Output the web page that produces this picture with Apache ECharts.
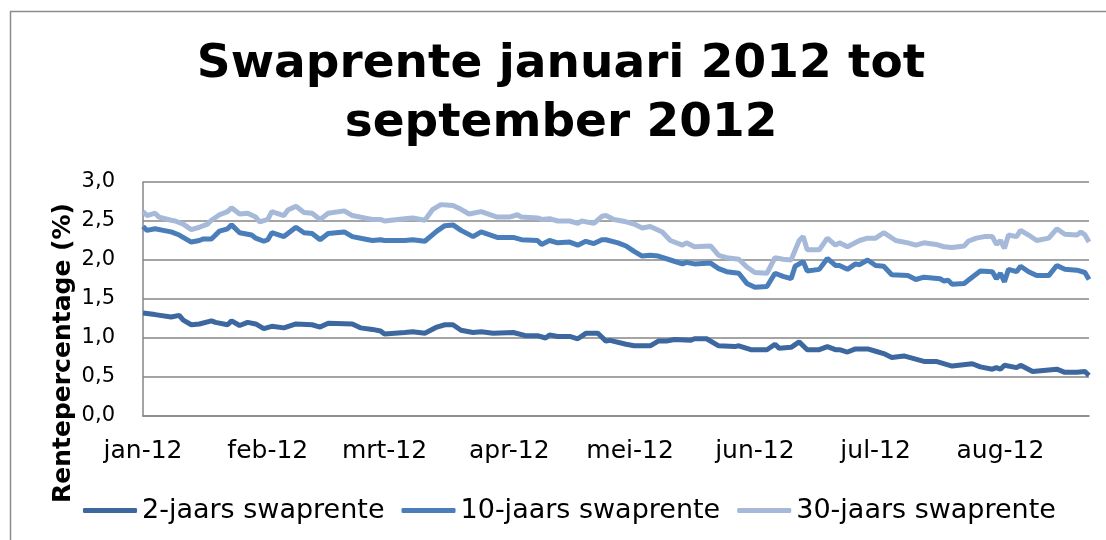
<!DOCTYPE html>
<html lang="nl">
<head>
<meta charset="UTF-8">
<title>Swaprente januari 2012 tot september 2012</title>
<script src="https://cdn.jsdelivr.net/npm/echarts@6/dist/echarts.min.js"></script>
<style>
  html, body { margin: 0; padding: 0; background: #fff; }
  #chart { width: 1106px; height: 540px; }
</style>
</head>
<body>
<div id="chart"></div>
<script>
  // x = dagen sinds 1 januari 2012
  var monthStarts = [0, 31, 60, 91, 121, 152, 182, 213];
  var monthLabels = ['jan-12', 'feb-12', 'mrt-12', 'apr-12', 'mei-12', 'jun-12', 'jul-12', 'aug-12'];

  var days2 = [0,3,7,9,10,12,14,17,18,21,22,24,26,28,30,32,35,38,42,44,46,52,54,57,59,60,65,67,70,73,75,77,79,82,84,87,92,95,98,100,101,103,106,108,110,113,115,116,120,122,126,128,130,132,136,137,140,143,147,148,151,155,157,158,161,163,165,168,170,172,173,175,177,180,182,184,186,189,194,197,201,206,208,211,212,213,214,217,218,221,227,229,232,234,235];
  var rate2 = [1.32,1.30,1.27,1.29,1.23,1.17,1.18,1.22,1.20,1.17,1.22,1.16,1.20,1.18,1.12,1.15,1.13,1.18,1.17,1.14,1.19,1.18,1.13,1.11,1.09,1.05,1.07,1.08,1.06,1.14,1.17,1.17,1.10,1.07,1.08,1.06,1.07,1.03,1.03,1.00,1.04,1.02,1.02,0.99,1.06,1.06,0.96,0.97,0.92,0.90,0.90,0.96,0.96,0.98,0.97,0.99,0.99,0.90,0.89,0.90,0.85,0.85,0.92,0.87,0.88,0.95,0.85,0.85,0.89,0.85,0.85,0.82,0.86,0.86,0.83,0.80,0.75,0.77,0.70,0.70,0.64,0.67,0.63,0.60,0.62,0.60,0.65,0.62,0.65,0.57,0.60,0.56,0.56,0.57,0.52];

  var days10 = [0,1,3,5,7,9,12,14,15,17,19,21,22,24,27,28,30,31,32,35,38,40,42,44,46,50,52,55,57,59,60,65,67,70,73,75,77,79,82,84,88,92,94,98,99,101,103,106,108,110,112,114,115,118,120,122,124,126,128,131,134,135,137,141,143,145,148,150,152,155,157,159,161,162,164,165,168,170,172,173,175,177,178,180,182,184,186,190,192,194,198,199,200,201,204,205,208,211,212,213,214,215,217,218,220,222,225,227,229,232,234,235];
  var rate10 = [2.43,2.38,2.40,2.38,2.36,2.32,2.23,2.25,2.27,2.27,2.37,2.40,2.45,2.35,2.32,2.28,2.24,2.26,2.35,2.30,2.42,2.35,2.34,2.26,2.34,2.36,2.30,2.27,2.25,2.26,2.25,2.25,2.26,2.24,2.37,2.44,2.45,2.38,2.30,2.36,2.29,2.29,2.26,2.25,2.20,2.25,2.22,2.23,2.19,2.24,2.21,2.26,2.26,2.22,2.18,2.11,2.05,2.06,2.05,2.00,1.95,1.97,1.95,1.96,1.89,1.85,1.83,1.70,1.65,1.66,1.83,1.79,1.76,1.92,1.98,1.86,1.88,2.02,1.93,1.93,1.88,1.95,1.94,2.00,1.93,1.92,1.81,1.80,1.75,1.78,1.76,1.73,1.74,1.69,1.70,1.74,1.86,1.85,1.76,1.83,1.72,1.88,1.85,1.92,1.85,1.80,1.80,1.93,1.88,1.87,1.84,1.75];

  var days30 = [0,1,3,4,7,8,10,12,14,16,17,19,21,22,24,26,28,29,31,32,35,36,38,40,42,44,46,50,52,55,57,59,60,65,67,70,72,74,77,79,81,84,88,91,93,94,98,99,101,103,106,108,109,112,114,115,117,120,122,124,126,129,131,134,135,137,141,143,145,148,150,152,155,157,159,161,163,164,165,168,170,172,173,175,178,180,182,184,187,190,192,194,197,199,201,204,205,207,209,211,212,213,214,215,217,218,220,222,225,227,229,232,233,234,235];
  var rate30 = [2.62,2.57,2.60,2.55,2.51,2.50,2.46,2.39,2.42,2.46,2.51,2.58,2.62,2.67,2.59,2.60,2.55,2.49,2.52,2.62,2.57,2.64,2.69,2.61,2.60,2.52,2.60,2.63,2.57,2.54,2.52,2.52,2.50,2.53,2.54,2.51,2.65,2.71,2.70,2.65,2.59,2.62,2.55,2.55,2.58,2.55,2.54,2.52,2.53,2.50,2.50,2.47,2.50,2.47,2.56,2.57,2.52,2.49,2.46,2.41,2.43,2.36,2.25,2.19,2.22,2.17,2.18,2.06,2.03,2.01,1.91,1.84,1.83,2.03,2.01,2.00,2.25,2.30,2.13,2.13,2.28,2.19,2.22,2.17,2.25,2.28,2.28,2.35,2.25,2.22,2.19,2.22,2.20,2.17,2.16,2.18,2.24,2.28,2.30,2.30,2.20,2.25,2.15,2.32,2.30,2.38,2.32,2.25,2.28,2.40,2.33,2.32,2.36,2.32,2.23];

  function pairs(xs, ys) {
    return xs.map(function (x, i) { return [x, ys[i]]; });
  }

  var font = 'DejaVu Sans, Verdana, sans-serif';
  var grey = '#868686';

  var myChart = echarts.init(document.getElementById('chart'));
  myChart.setOption({
    animation: false,
    textStyle: { fontFamily: font },
    title: {
      text: 'Swaprente januari 2012 tot\nseptember 2012',
      left: 561,
      top: 35,
      padding: 0,
      textAlign: 'center',
      textStyle: { fontSize: 47, fontWeight: 'bold', color: '#000', lineHeight: 59, fontFamily: font }
    },
    grid: { left: 143, right: 17, top: 182, bottom: 124, containLabel: false },
    xAxis: {
      type: 'value',
      min: 0,
      max: 235,
      axisLine: { show: true, lineStyle: { color: grey, width: 1.5 } },
      axisTick: { show: false },
      splitLine: { show: false },
      axisLabel: {
        customValues: monthStarts,
        margin: 23,
        fontSize: 25,
        color: '#000',
        fontFamily: font,
        formatter: function (v) {
          var i = monthStarts.indexOf(v);
          return i >= 0 ? monthLabels[i] : '';
        }
      }
    },
    yAxis: {
      type: 'value',
      min: 0,
      max: 3,
      interval: 0.5,
      axisLine: { show: true, lineStyle: { color: grey, width: 1.5 } },
      axisTick: { show: false },
      splitLine: { show: true, lineStyle: { color: grey, width: 1.5 } },
      axisLabel: {
        margin: 28,
        fontSize: 21,
        color: '#000',
        fontFamily: font,
        formatter: function (v) { return v.toFixed(1).replace('.', ','); }
      }
    },
    legend: {
      left: 83,
      top: 497,
      padding: 0,
      itemWidth: 54,
      itemHeight: 5,
      itemGap: 17,
      icon: 'roundRect',
      textStyle: { fontSize: 27, color: '#000', fontFamily: font },
      data: ['2-jaars swaprente', '10-jaars swaprente', '30-jaars swaprente']
    },
    graphic: [
      {
        type: 'rect',
        shape: { x: 10.5, y: 11.5, width: 1200, height: 600 },
        style: { fill: 'none', stroke: '#8c8c8c', lineWidth: 1.5 },
        silent: true
      },
      {
        type: 'text',
        x: 63,
        y: 353,
        rotation: Math.PI / 2,
        style: {
          text: 'Rentepercentage (%)',
          fontSize: 25,
          fontWeight: 'bold',
          fontFamily: font,
          fill: '#000',
          align: 'center',
          verticalAlign: 'middle'
        }
      }
    ],
    series: [
      {
        name: '2-jaars swaprente',
        type: 'line',
        data: pairs(days2, rate2),
        showSymbol: false,
        color: '#3D679F',
        lineStyle: { width: 5, color: '#3D679F' }
      },
      {
        name: '10-jaars swaprente',
        type: 'line',
        data: pairs(days10, rate10),
        showSymbol: false,
        color: '#4A7EBB',
        lineStyle: { width: 5, color: '#4A7EBB' }
      },
      {
        name: '30-jaars swaprente',
        type: 'line',
        data: pairs(days30, rate30),
        showSymbol: false,
        color: '#A6B9D8',
        lineStyle: { width: 5, color: '#A6B9D8' }
      }
    ]
  });
</script>
</body>
</html>
